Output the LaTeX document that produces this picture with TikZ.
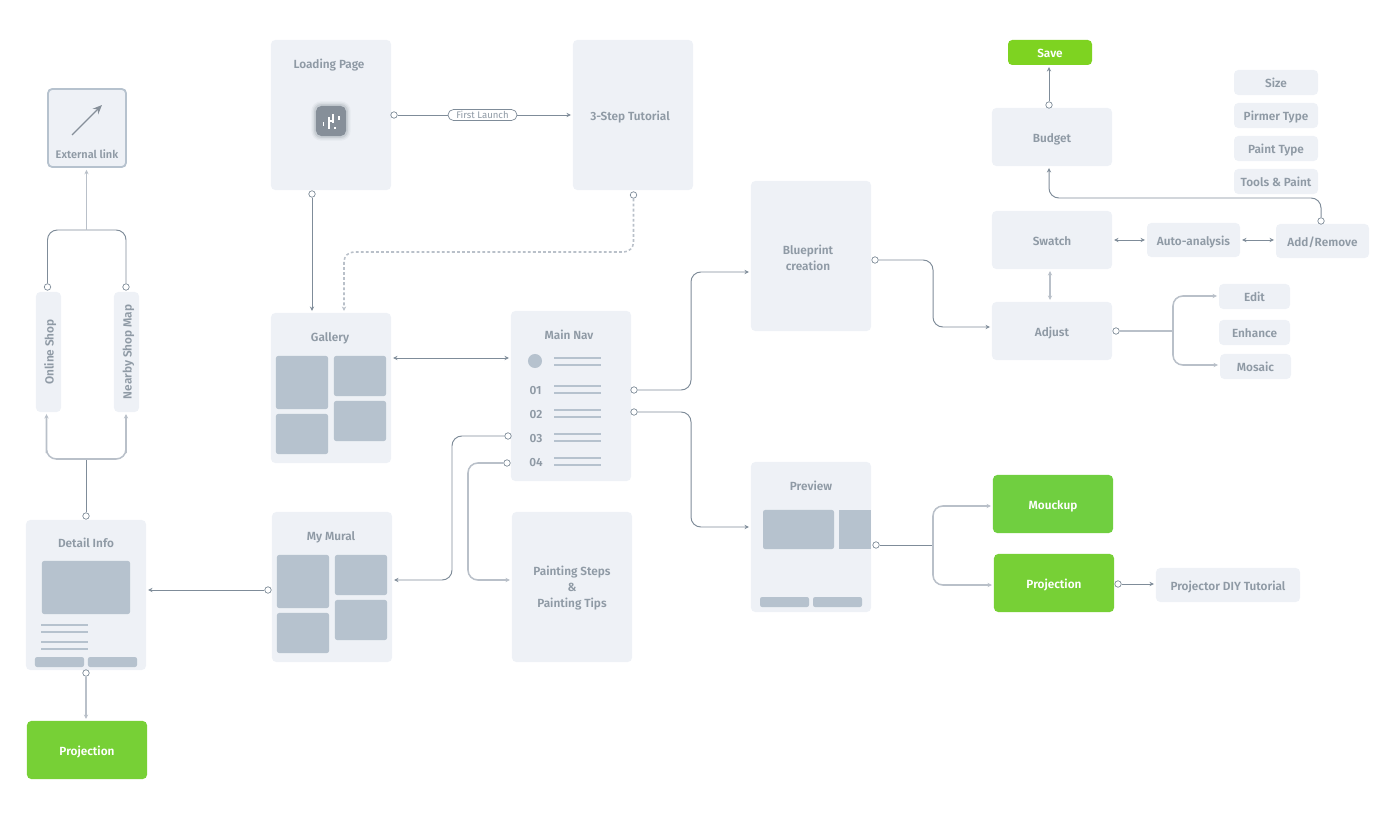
\documentclass[tikz,border=0pt]{standalone}
\usepackage{fontspec}
\setmainfont[BoldFont={Fira Sans SemiBold}]{Fira Sans}
\usepackage{xcolor}
\usetikzlibrary{positioning,arrows.meta}
\definecolor{boxbg}{HTML}{EEF1F6}
\definecolor{thumbbg}{HTML}{B6C2CE}
\definecolor{inkc}{HTML}{8F9AA5}
\definecolor{wirec}{HTML}{7F8C99}
\definecolor{wirel}{HTML}{B9C0C9}
\definecolor{saveg}{HTML}{7ED321}
\definecolor{mockg}{HTML}{70CF40}
\definecolor{projg}{HTML}{77D036}
\definecolor{logoc}{HTML}{868F99}
\tikzset{base/.style={rectangle,fill=boxbg,rounded corners=3pt,inner sep=0pt,outer sep=1.4pt,text=inkc,align=center,text height=8.8pt,text depth=1.5pt,font=\fontsize{8.4}{11.4}\selectfont\bfseries}}
\tikzset{scr/.style={base,minimum width=3cm,minimum height=3.75cm}}
\tikzset{blk/.style={base,minimum width=3cm,minimum height=1.45cm}}
\tikzset{tag/.style={base,minimum width=2.1cm,minimum height=0.625cm}}
\tikzset{tagm/.style={base,minimum width=1.775cm,minimum height=0.625cm}}
\tikzset{tagl/.style={base,minimum width=2.325cm,minimum height=0.85cm}}
\tikzset{side/.style={base,rotate=90,minimum width=3cm,minimum height=0.625cm}}
\tikzset{grn/.style={blk,text=white}}
\tikzset{ttl/.style={inner sep=0pt,text=inkc,align=center,font=\fontsize{8.4}{11.4}\selectfont\bfseries}}
\tikzset{ttls/.style={ttl,text height=7.4pt,text depth=1.5pt}}
\tikzset{thma/.style={rectangle,fill=thumbbg,rounded corners=1.5pt,inner sep=0pt,minimum width=1.3cm,minimum height=1.325cm}}
\tikzset{thmb/.style={thma,minimum height=1cm}}
\tikzset{bar/.style={rectangle,fill=thumbbg,inner sep=0pt,minimum width=1.175cm,minimum height=0.05cm}}
\tikzset{btn/.style={thma,minimum width=1.225cm,minimum height=0.25cm}}
\tikzset{dot/.style={circle,draw=wirec,fill=white,line width=0.5pt,inner sep=0pt,minimum size=4.6pt}}
\tikzset{wire/.style={draw=wirec,line width=0.7pt,rounded corners=7pt}}
\tikzset{wirelt/.style={draw=wirel,line width=1.1pt,rounded corners=7pt}}
\tikzset{lgm/.style={rectangle,fill=white,inner sep=0pt,minimum width=1.4pt}}
\tikzset{glow/.style={rectangle,fill=logoc,inner sep=0pt}}
\begin{document}
\begin{tikzpicture}[>={Stealth[length=3.2pt,width=3pt]},x=0.025cm,y=-0.025cm]
    \useasboundingbox (0,0) rectangle (1400,813);

    \node[scr] (load)at (331,115) {};
    \node[scr] (tuto)at (633,115) {};
    \node[scr] (gall)at (331,388) {};
    \node[scr] (mura)at (332,587) {};
    \node[scr,minimum height=4.25cm] (menu)at (571,396) {};
    \node[scr] (tips)at (572,587) {};
    \node[scr] (blue)at (811,256) {};
    \node[scr] (prev)at (811,537) {};
    \node[scr] (deta)at (86,595) {};

    \node[ttls] (tload)at (329,64) {Loading Page};
    \node[ttls] (ttuto)at (630,116) {3-Step Tutorial};
    \node[ttls] (tgall)at (330,337) {Gallery};
    \node[ttls] (tmura)at (331,536) {My Mural};
    \node[ttls] (tmenu)at (569,335) {Main Nav};
    \node[ttl] (ttips)at (572,588.5) {Painting Steps\\\&\\Painting Tips};
    \node[ttl] (tblue)at (808,257.5) {Blueprint\\creation};
    \node[ttls] (tprev)at (811,486) {Preview};
    \node[ttls] (tdeta)at (86,543) {Detail Info};

    \node[thma] (g1)at (302,382.5) {};
    \node[thmb] (g2)at (360,376) {};
    \node[thmb] (g3)at (302,434) {};
    \node[thmb] (g4)at (360,421) {};
    \node[thma] (m1)at (303,581.5) {};
    \node[thmb] (m2)at (361,575) {};
    \node[thmb] (m3)at (303,633) {};
    \node[thmb] (m4)at (361,620) {};

    \node[circle,fill=thumbbg,minimum size=10pt,inner sep=0pt] (nc)at (535,361) {};
    \node[ttls] (n1)at (535.5,390) {01};
    \node[ttls] (n2)at (536,414) {02};
    \node[ttls] (n3)at (536,438) {03};
    \node[ttls] (n4)at (536,462) {04};
    \node[bar] (r0a)at (577.5,357.5) {};
    \node[bar] (r0b)at (577.5,365) {};
    \node[bar] (r1a)at (577.5,386) {};
    \node[bar] (r1b)at (577.5,393) {};
    \node[bar] (r2a)at (577.5,410) {};
    \node[bar] (r2b)at (577.5,417) {};
    \node[bar] (r3a)at (577.5,434) {};
    \node[bar] (r3b)at (577.5,441) {};
    \node[bar] (r4a)at (577.5,458) {};
    \node[bar] (r4b)at (577.5,465) {};

    \node[thma,minimum width=1.775cm,minimum height=0.975cm] (p1)at (798.5,529.5) {};
    \node[thma,minimum width=0.8cm,minimum height=0.975cm,rounded corners=0pt] (p2)at (855,529.5) {};
    \node[btn] (p3)at (784.5,602) {};
    \node[btn] (p4)at (837.5,602) {};

    \node[thma,minimum width=2.2cm,minimum height=1.325cm] (d1)at (86,587.5) {};
    \node[bar] (b1)at (64.5,625) {};
    \node[bar] (b2)at (64.5,632) {};
    \node[bar] (b3)at (64.5,642) {};
    \node[bar] (b4)at (64.5,649) {};
    \node[btn] (d2)at (59.5,662) {};
    \node[btn] (d3)at (112.5,662) {};

    \node[base,draw=thumbbg,line width=1.3pt,minimum width=1.95cm,minimum height=1.95cm,outer sep=2pt] (extl)at (87,128) {};
    \node[ttls,font=\fontsize{7.8}{10}\selectfont\bfseries] (text)at (87,154) {External link};
    \coordinate (ea)at (72,135);
    \coordinate (eb)at (102,105);
    \draw [-{Stealth[length=6.5pt,width=5.5pt]},draw=logoc,fill=logoc,line width=0.9pt] (ea) to (eb);

    \node[side] (shop)at (48.5,352) {Online Shop};
    \node[side] (near)at (126.5,352) {Nearby Shop Map};

    \node[grn,fill=projg] (pro1)at (87,750) {Projection};
    \node[grn,fill=mockg] (mock)at (1053,504) {Mouckup};
    \node[grn,fill=projg] (pro2)at (1054,583) {Projection};
    \node[base,minimum width=3.6cm,minimum height=0.85cm] (diyt)at (1228,585) {Projector DIY Tutorial};

    \node[tag,fill=saveg,text=white] (save)at (1050,52.5) {Save};
    \node[blk] (budg)at (1052,137) {Budget};
    \node[blk] (swat)at (1052,240) {Swatch};
    \node[blk] (adju)at (1052,331) {Adjust};
    \node[tagl] (auto)at (1193.5,240) {Auto-analysis};
    \node[tagl] (addr)at (1322.5,241) {Add/Remove};
    \node[tag] (size)at (1276,82.5) {Size};
    \node[tag] (prim)at (1276,115.5) {Pirmer Type};
    \node[tag] (pain)at (1276,148.5) {Paint Type};
    \node[tag] (tool)at (1276,181.5) {Tools \& Paint};
    \node[tagm] (edit)at (1254.5,296.5) {Edit};
    \node[tagm] (enha)at (1254.5,332.5) {Enhance};
    \node[tagm] (mosa)at (1255.5,366.5) {Mosaic};

    \node[dot] (dload)at (394,115) {};
    \node[dot] (dgall)at (312,194) {};
    \node[dot] (dtuto)at (633.5,195) {};
    \node[dot] (dnv1)at (634,390) {};
    \node[dot] (dnv2)at (634,412) {};
    \node[dot] (dnv3)at (508,436) {};
    \node[dot] (dnv4)at (507,463) {};
    \node[dot] (dblue)at (875,260) {};
    \node[dot] (dbudg)at (1049,105) {};
    \node[dot] (daddr)at (1321,221) {};
    \node[dot] (dadju)at (1116,331) {};
    \node[dot] (dprev)at (876,545) {};
    \node[dot] (dpro2)at (1118,584) {};
    \node[dot] (dmura)at (268,590) {};
    \node[dot] (ddet1)at (86,516) {};
    \node[dot] (ddet2)at (86,673) {};
    \node[dot] (dshop)at (47.5,287) {};
    \node[dot] (dnear)at (126,287) {};

    \coordinate (j1)at (344,252);
    \coordinate (j2)at (691,272);
    \coordinate (j3)at (691,527);
    \coordinate (j4)at (452,580);
    \coordinate (j5)at (468,580);
    \coordinate (j6)at (933,327);
    \coordinate (j7)at (1049,198);
    \coordinate (j8)at (1173,331);
    \coordinate (j9)at (933,545);
    \coordinate (j10)at (86,459);
    \coordinate (j11)at (86.5,230);
    \coordinate (j12)at (1173,296);
    \coordinate (j13)at (1173,365);
    \coordinate (j14)at (933,506);
    \coordinate (j15)at (933,585);
    \coordinate (j16)at (46.5,459);
    \coordinate (j17)at (126,459);

    \node[base,draw=wirec,fill=white,line width=0.5pt,rounded corners=3.9pt,outer sep=0pt,minimum width=1.725cm,minimum height=0.275cm,text height=5pt,text depth=0.6pt,text=inkc,font=\fontsize{6.8}{8}\selectfont] (flan)at (482.5,115) {First Launch};

    \draw [wire] (dload) to (flan);
    \draw [wire,->] (flan) to (flan -| tuto.west);
    \draw [wire,->] (dgall) to (dgall |- gall.north);
    \draw [wirelt,dash pattern=on 2pt off 1.6pt,->] (dtuto) |- (j1) -- (j1 |- gall.north);
    \draw [wire,<->] ([shift={(0,-30)}]gall.east) to ([shift={(0,-38)}]menu.west);
    \draw [wire,->] (dnv1) -| (j2) -- (j2 -| blue.west);
    \draw [wire,->] (dnv2) -| (j3) -- (j3 -| prev.west);
    \draw [wire,->] (dnv3) -| (j4) -- (j4 -| mura.east);
    \draw [wirelt,->] (dnv4) -| (j5) -- (j5 -| tips.west);
    \draw [wire,->] (dblue) -| (j6) -- (j6 -| adju.west);
    \draw [wire,->] (dbudg) to (dbudg |- save.south);
    \draw [wire,->] (daddr) |- (j7) -- (j7 |- budg.south);
    \draw [wire,<->] (swat) to (auto);
    \draw [wire,<->] (auto) to (auto -| addr.west);
    \draw [wirelt,<->] ([shift={(-2,0)}]swat.south) to ([shift={(-2,0)}]adju.north);
    \draw [wirelt] (dadju) to (j8);
    \draw [wirelt,->] (j8) -- (j12) -- (j12 -| edit.west);
    \draw [wirelt,->] (j8) -- (j13) -- (j13 -| mosa.west);
    \draw [wire] (dprev) to (j9);
    \draw [wirelt,->] (j9) -- (j14) -- (j14 -| mock.west);
    \draw [wirelt,->] (j9) -- (j15) -- (j15 -| pro2.west);
    \draw [wire,->] (dpro2) to (dpro2 -| diyt.west);
    \draw [wire,->] (dmura) to (dmura -| deta.east);
    \draw [wirelt,->] (ddet2) to (ddet2 |- pro1.north);
    \draw [wire] (ddet1) to (j10);
    \draw [wirelt,->] (j10) -| (j16) -- (j16 |- shop.west);
    \draw [wirelt,->] (j10) -| (j17) -- (j17 |- near.west);
    \draw [wire] (dshop) |- (j11);
    \draw [wire] (dnear) |- (j11);
    \draw [wirelt,->] (j11) to (j11 |- extl.south);

    \node[glow,fill opacity=0.08,rounded corners=7pt,minimum size=28pt] (lgs0)at (331,121) {};
    \node[glow,fill opacity=0.12,rounded corners=6pt,minimum size=26pt] (lgs1)at (331,121) {};
    \node[glow,fill opacity=0.2,rounded corners=5pt,minimum size=24pt] (lgs2)at (331,121) {};
    \node[glow,rounded corners=4pt,minimum size=21.5pt] (logo)at (331,121) {};
    \node[lgm,minimum height=2.5pt] (lg1)at (323.5,124) {};
    \node[lgm,minimum height=8.5pt] (lg2)at (329,123) {};
    \node[lgm,minimum width=3pt,minimum height=1.4pt] (lg3)at (332,121) {};
    \node[lgm,minimum height=6.5pt] (lg4)at (333,118.5) {};
    \node[lgm,minimum height=1.6pt] (lg5)at (335,128) {};
    \node[lgm,minimum height=2.8pt] (lg6)at (339,118) {};
\end{tikzpicture}
\end{document}
